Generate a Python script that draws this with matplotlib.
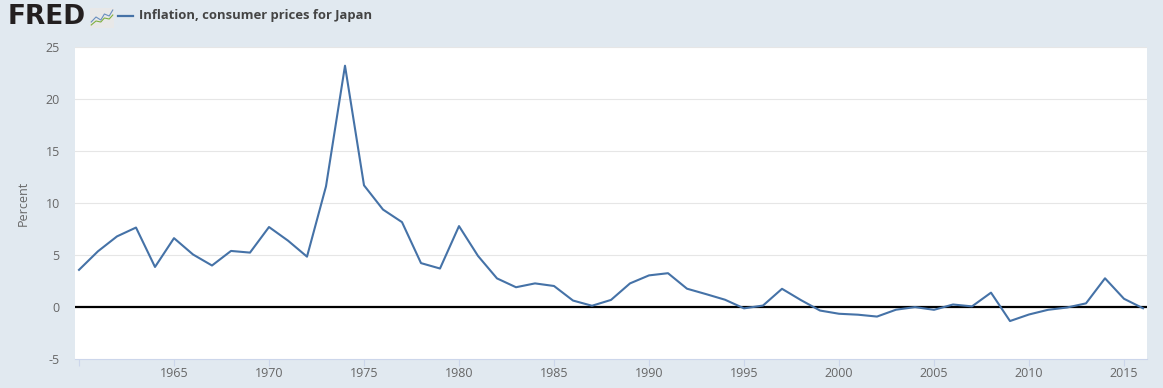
import numpy as np
import matplotlib.pyplot as plt

plt.rcParams['font.family'] = ['Open Sans', 'DejaVu Sans']
plt.rcParams['axes.unicode_minus'] = False

# Inflation, consumer prices for Japan (annual %)
years = list(range(1960, 2017))
inflation = [3.57, 5.36, 6.79, 7.64, 3.85, 6.62, 5.05, 3.99, 5.39, 5.23,
             7.69, 6.38, 4.84, 11.6, 23.2, 11.7, 9.37, 8.16, 4.22, 3.70,
             7.78, 4.91, 2.75, 1.90, 2.27, 2.02, 0.62, 0.12, 0.68, 2.27,
             3.04, 3.25, 1.76, 1.24, 0.70, -0.13, 0.14, 1.75, 0.66, -0.34,
             -0.65, -0.74, -0.92, -0.26, -0.01, -0.27, 0.24, 0.06, 1.38, -1.35,
             -0.72, -0.27, -0.05, 0.35, 2.76, 0.79, -0.12]
xticks = list(range(1960, 2020, 5))
xticklabels = [''] + [str(y) for y in xticks[1:]]
yticks = [-5, 0, 5, 10, 15, 20, 25]

bg = '#e1e9f0'
fig = plt.figure(figsize=(11.63, 3.88), dpi=100, facecolor=bg)
ax = fig.add_axes([75/1163, 1 - 359/388, (1147 - 75)/1163, (359 - 47)/388])
ax.set_facecolor('white')

for y in yticks[2:]:
    ax.axhline(y, color='#e6e6e6', lw=0.8, zorder=1)
ax.axhline(0, color='black', lw=1.6, zorder=2)
ax.plot(years, inflation, color='#4572a7', lw=1.5, zorder=3)

ax.set_xlim(1960 - 4/19, 2016 + 4/19)
ax.set_ylim(-5, 25)
ax.set_xticks(xticks)
ax.set_xticklabels(xticklabels)
ax.set_yticks(yticks)
ax.tick_params(axis='x', length=5, width=0.8, color='#ccd6eb', labelsize=9,
               labelcolor='#666666', pad=1)
ax.tick_params(axis='y', length=0, labelsize=9, labelcolor='#666666', pad=11)
for s in ['top', 'right', 'left']:
    ax.spines[s].set_visible(False)
ax.spines['bottom'].set_color('#ccd6eb')
ax.spines['bottom'].set_linewidth(0.8)
ax.set_ylabel('Percent', fontsize=9, color='#666666', labelpad=11)

# header
fig.text(8/1163, 1 - 17/388, 'FRED', fontsize=19, fontweight='heavy',
         family='DejaVu Sans', color='#231f20', va='center', ha='left')
icon = fig.add_axes([90/1163, 1 - 28/388, 24/1163, 20/388])
icon.set_facecolor('#e8e8e8')
icon.plot([0.05, 0.25, 0.45, 0.6, 0.8, 0.95], [0.3, 0.55, 0.4, 0.7, 0.6, 0.9], color='#6a8fbf', lw=0.8)
icon.plot([0.05, 0.25, 0.45, 0.6, 0.8, 0.95], [0.15, 0.35, 0.3, 0.5, 0.45, 0.65], color='#7fb040', lw=0.8)
icon.set_xlim(0, 1)
icon.set_ylim(0, 1)
icon.set_xticks([])
icon.set_yticks([])
for s in icon.spines.values():
    s.set_visible(False)
fig.add_artist(plt.Line2D([118/1163, 133/1163], [1 - 16/388, 1 - 16/388],
                          color='#4572a7', lw=1.6))
fig.text(139/1163, 1 - 16/388, 'Inflation, consumer prices for Japan', fontsize=9.4,
         fontweight='bold', color='#444444', va='center', ha='left')

fig.savefig('out.png', dpi=100, facecolor=bg)
